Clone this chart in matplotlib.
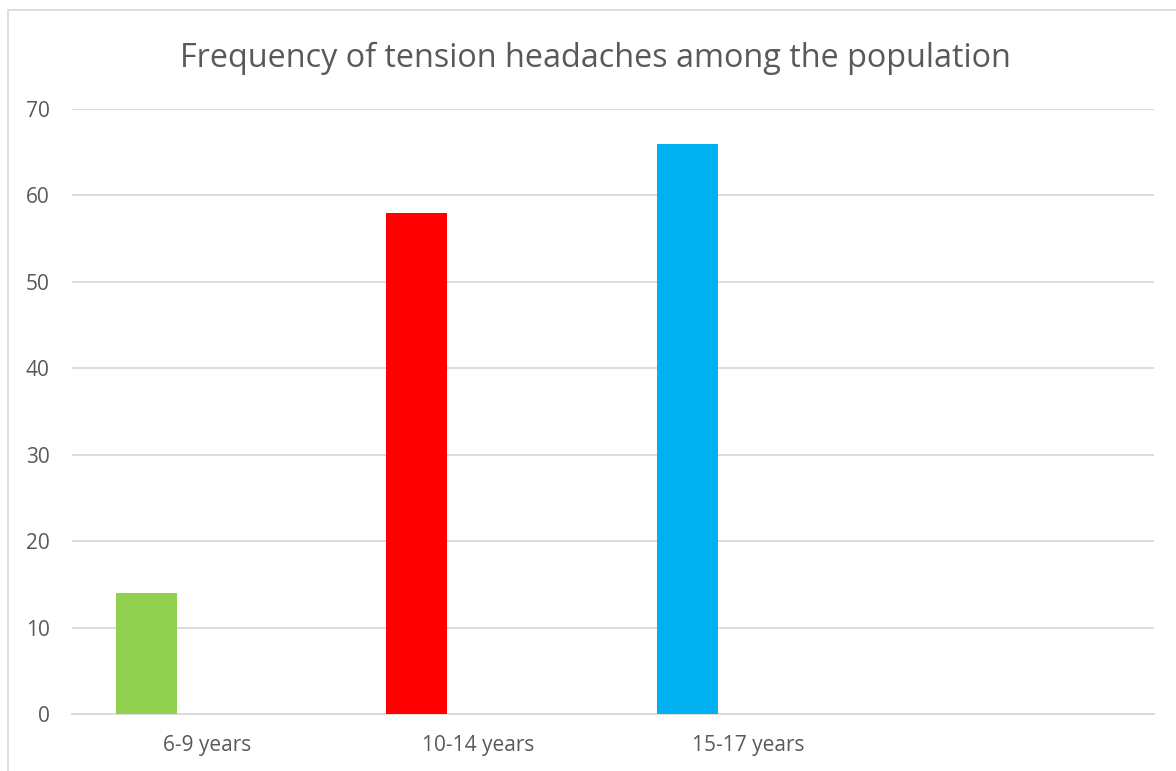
import matplotlib
matplotlib.use("Agg")
import matplotlib.pyplot as plt
from matplotlib.patches import Rectangle

# ---- data ----
categories = ["6-9 years", "10-14 years", "15-17 years", ""]
values = [14, 58, 66, None]
bar_colors = ["#92D050", "#FF0000", "#00B0F0"]
yticks = [0, 10, 20, 30, 40, 50, 60, 70]
title = "Frequency of tension headaches among the population"

TEXT = "#595959"
GRID = "#D9D9D9"
plt.rcParams["font.family"] = ["Open Sans", "DejaVu Sans"]

fig = plt.figure(figsize=(11.76, 7.71), dpi=100)
ax = fig.add_axes([0.0612, 0.0739, 0.9201, 0.7847])

# chart border (cropped on right/bottom like the reference)
fig.patches.append(Rectangle((8 / 1176, -0.01), 1.2, 1 - 10 / 771 + 0.01,
                             transform=fig.transFigure, fill=False,
                             edgecolor=GRID, linewidth=1.2))

# clustered-bar layout: first of three slots in each category
w = 0.225
for i, v in enumerate(values):
    if v is None:
        continue
    ax.bar(i - w, v, width=w, color=bar_colors[i], zorder=3)

ax.set_xlim(-0.5, len(categories) - 0.5)
ax.set_ylim(0, 70)
ax.set_yticks(yticks)
ax.set_xticks(range(len(categories)))
ax.set_xticklabels(categories)
ax.yaxis.grid(True, color=GRID, linewidth=1.3, zorder=0)
ax.xaxis.grid(False)
for s in ["top", "right", "left"]:
    ax.spines[s].set_visible(False)
ax.spines["bottom"].set_color(GRID)
ax.spines["bottom"].set_linewidth(1.3)
ax.tick_params(axis="both", length=0, labelsize=15, colors=TEXT)
ax.tick_params(axis="y", pad=16)
ax.tick_params(axis="x", pad=15)

fig.text(0.506, 1 - 58 / 771, title, ha="center", va="center",
         fontsize=23.3, color=TEXT)

fig.savefig("out.png", dpi=100)
